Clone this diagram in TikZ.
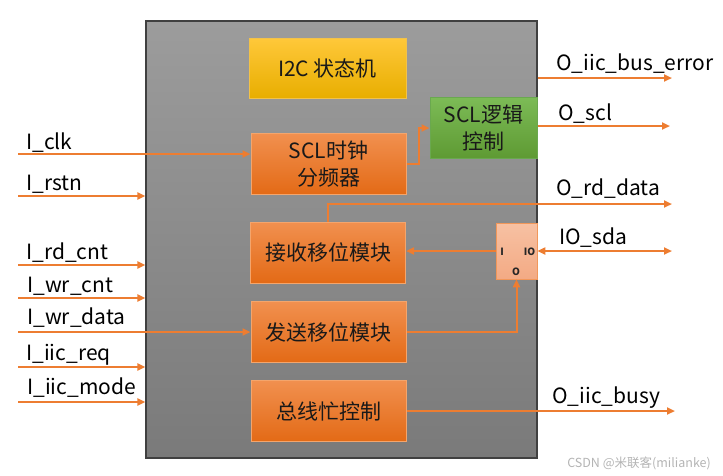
\documentclass[tikz,border=0pt]{standalone}
\usepackage{fontspec}
\setmainfont{Noto Sans CJK SC}
\usetikzlibrary{arrows.meta}
\definecolor{arrc}{HTML}{ED7D31}
\definecolor{gtop}{HTML}{9C9C9C}
\definecolor{gbot}{HTML}{7A7A7A}
\definecolor{otop}{HTML}{F1904F}
\definecolor{obot}{HTML}{E36A16}
\definecolor{oline}{HTML}{F4A56C}
\definecolor{ytop}{HTML}{FFC83A}
\definecolor{ybot}{HTML}{E8AE00}
\definecolor{yline}{HTML}{F2C24A}
\definecolor{grtop}{HTML}{7CBB56}
\definecolor{grbot}{HTML}{5E9A33}
\definecolor{grline}{HTML}{6AA84F}
\definecolor{iotop}{HTML}{F7C1A3}
\definecolor{iobot}{HTML}{F3AA84}
\definecolor{wm}{HTML}{B4B4B4}
\tikzset{
  box/.style={rectangle, inner sep=0pt, line width=1pt, align=center,
    font=\fontsize{21}{27}\selectfont, text=black!90},
  obox/.style={box, top color=otop, bottom color=obot, draw=oline,
    minimum width=155pt, minimum height=61pt},
  arr/.style={draw=arrc, line width=2pt, -{Triangle[length=8pt,width=7pt]}},
  arrb/.style={draw=arrc, line width=2pt, {Triangle[length=8pt,width=7pt]}-{Triangle[length=8pt,width=7pt]}},
  sig/.style={anchor=base west, inner sep=0pt, font=\fontsize{21}{24}\selectfont},
  tiny/.style={inner sep=0pt, font=\fontsize{10}{12}\selectfont\bfseries, text=black!85},
}
\begin{document}
\begin{tikzpicture}[x=1pt,y=-1pt]
\useasboundingbox (0,0) rectangle (723,475);
% main gray box
\node[rectangle, inner sep=0pt, top color=gtop, bottom color=gbot, draw=black!75, line width=1.2pt,
  minimum width=391pt, minimum height=437pt] (main) at (341.5,239.5) {};
% inner blocks
\node[box, top color=ytop, bottom color=ybot, draw=yline, minimum width=157pt, minimum height=60pt] (fsm) at (327.5,68) {I2C 状态机};
\node[obox] (div) at (328.5,164) {SCL时钟\\分频器};
\node[box, top color=grtop, bottom color=grbot, draw=grline, minimum width=107pt, minimum height=61pt] (scl) at (483.5,128) {SCL逻辑\\控制};
\node[obox] (rx) at (328,252.5) {接收移位模块};
\node[obox] (tx) at (328.5,332) {发送移位模块};
\node[obox] (bus) at (328.5,411) {总线忙控制};
\node[rectangle, inner sep=0pt, top color=iotop, bottom color=iobot, draw=arrc!80, line width=0.8pt,
  minimum width=41pt, minimum height=56pt] (io) at (516.5,251) {};
\node[tiny] (ioI) at (502,252) {I};
\node[tiny] (ioIO) at (529.5,252) {IO};
\node[tiny] (ioO) at (516,272) {O};
% input coordinates
\coordinate (iclk) at (18,154);
\coordinate (irstn) at (18,196);
\coordinate (irdcnt) at (18,265);
\coordinate (iwrcnt) at (18,298);
\coordinate (iwrdata) at (18,332);
\coordinate (ireq) at (18,367);
\coordinate (imode) at (18,402);
% output coordinates
\coordinate (obe) at (672,78);
\coordinate (oscl) at (670,126);
\coordinate (ord) at (672,204);
\coordinate (osda) at (672,251);
\coordinate (obusy) at (675,411);
% input arrows
\draw[arr] (iclk) -- (iclk -| div.west);
\draw[arr] (irstn) -- (irstn -| main.west);
\draw[arr] (irdcnt) -- (irdcnt -| main.west);
\draw[arr] (iwrcnt) -- (iwrcnt -| main.west);
\draw[arr] (iwrdata) -- (iwrdata -| tx.west);
\draw[arr] (ireq) -- (ireq -| main.west);
\draw[arr] (imode) -- (imode -| main.west);
% internal
\draw[arr] (div.east) -- ++(12,0) |- (scl.west);
\draw[arr] (io.west) -- (io.west -| rx.east);
\draw[arr] (tx.east) -| (io.south);
\draw[arr] (rx.north) |- (ord);
% outputs
\draw[arr] (obe -| main.east) -- (obe);
\draw[arr] (oscl -| scl.east) -- (oscl);
\draw[arrb] (io.east) -- (osda);
\draw[arr] (bus.east) -- (obusy);
% labels
\node[sig] (l1) at (26,149) {I\_clk};
\node[sig] (l2) at (26,190) {I\_rstn};
\node[sig] (l3) at (26,259) {I\_rd\_cnt};
\node[sig] (l4) at (27,292) {I\_wr\_cnt};
\node[sig] (l5) at (27,324) {I\_wr\_data};
\node[sig] (l6) at (26,360) {I\_iic\_req};
\node[sig] (l7) at (27,394) {I\_iic\_mode};
\node[sig] (r1) at (556,70) {O\_iic\_bus\_error};
\node[sig] (r2) at (558,120) {O\_scl};
\node[sig] (r3) at (556,195) {O\_rd\_data};
\node[sig] (r4) at (559,244) {IO\_sda};
\node[sig] (r5) at (552,403) {O\_iic\_busy};
\node[anchor=east, inner sep=0pt, text=wm, font=\fontsize{12.5}{14}\selectfont] (wmk) at (711,463) {CSDN @米联客(milianke)};
\end{tikzpicture}
\end{document}
